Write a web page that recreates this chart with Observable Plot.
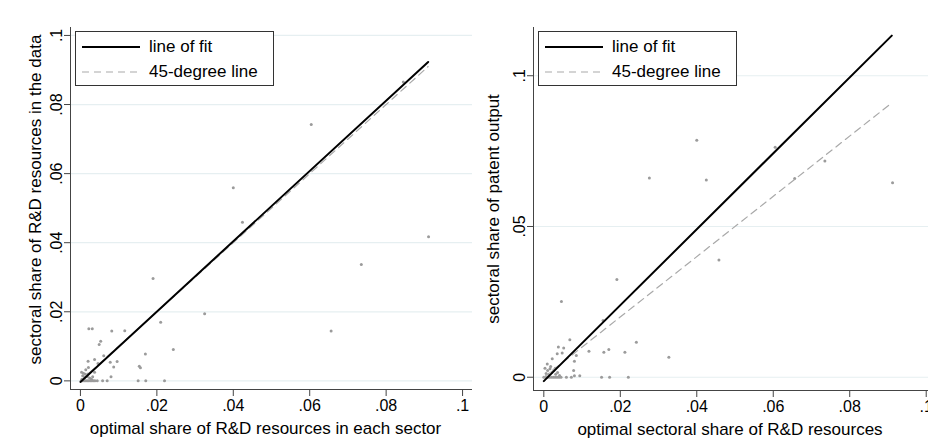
<!DOCTYPE html>
<html><head><meta charset="utf-8">
<script src="https://cdn.jsdelivr.net/npm/d3@7"></script>
<script src="https://cdn.jsdelivr.net/npm/@observablehq/plot@0.6"></script>
<style>
html,body{margin:0;padding:0;background:#fff;}
#wrap{position:relative;width:928px;height:446px;overflow:hidden;font-family:"Liberation Sans",Arial,sans-serif;color:#000;}
.panel{position:absolute;top:0;}
.legend{position:absolute;border:1px solid #333;background:#fff;box-sizing:border-box;font-size:17px;}
.row{position:absolute;left:0;height:20px;white-space:nowrap;}
.row svg{position:absolute;top:0;}
.row span{position:absolute;top:0;line-height:20px;}
</style>
</head><body>
<div id="wrap"></div>
<script>
// ---------- data ----------
// Left panel: optimal share of R&D resources (x) vs sectoral share of R&D resources in the data (y)
const leftX = [0.0604,0.0911,0.0735,0.0656,0.0400,0.0424,0.0845,0.0190,0.0325,0.0210,0.0243,0.0220,0.0170,0.0154,0.0157,0.0151,0.0171,
  0.0116,0.0082,0.0022,0.0031,0.0053,0.0049,0.0078,0.0096,0.0087,0.0061,0.0037,0.0020,0.0046,0.0021,0.0037,0.0080,0.0058,0.0070,0.0044,
  0.0014,0.0008,0.0003,0.0006,0.0011,0.0018,0.0024,0.0029,0.0004,0.0013,0.0020,0.0032,
  0.0002,0.0006,0.0010,0.0014,0.0018,0.0022,0.0026,0.0030,0.0034,0.0038];
const leftY = [0.0742,0.0417,0.0337,0.0144,0.0559,0.0459,0.0865,0.0296,0.0194,0.0170,0.0091,0.0000,0.0078,0.0042,0.0038,0.0000,0.0000,
  0.0145,0.0144,0.0151,0.0151,0.0115,0.0105,0.0054,0.0056,0.0040,0.0073,0.0062,0.0057,0.0050,0.0039,0.0025,0.0012,0.0000,0.0000,0.0000,
  0.0032,0.0022,0.0025,0.0015,0.0010,0.0012,0.0008,0.0005,0.0005,0.0019,0.0020,0.0012,
  0,0,0,0,0,0,0,0,0,0];
// Right panel: optimal sectoral share of R&D resources (x) vs sectoral share of patent output (y)
const rightX = [0.0400,0.0605,0.0735,0.0656,0.0276,0.0425,0.0912,0.0458,0.0191,0.0046,0.0155,0.0242,0.0327,0.0118,0.0157,0.0170,0.0212,
  0.0068,0.0038,0.0052,0.0048,0.0035,0.0022,0.0085,0.0080,0.0078,0.0094,0.0080,0.0072,0.0059,0.0151,0.0172,0.0221,0.0009,
  0.0003,0.0010,0.0016,0.0021,0.0026,0.0031,0.0006,0.0013,0.0036,0.0041,0.0018,0.0030,
  0.0000,0.0005,0.0010,0.0015,0.0020,0.0025,0.0030,0.0035,0.0040,0.0045];
const rightY = [0.0786,0.0763,0.0717,0.0659,0.0661,0.0654,0.0645,0.0389,0.0324,0.0251,0.0188,0.0116,0.0066,0.0086,0.0083,0.0092,0.0083,
  0.0124,0.0100,0.0097,0.0080,0.0078,0.0061,0.0072,0.0053,0.0022,0.0005,0.0005,0.0000,0.0000,0.0000,0.0000,0.0000,0.0044,
  0.0030,0.0022,0.0028,0.0016,0.0022,0.0010,0.0012,0.0008,0.0016,0.0006,0.0036,0.0030,
  0,0,0,0,0,0,0,0,0,0];
// Fitted lines and 45-degree line endpoints
const lineX = [0, 0.091];
const leftFitY = [-0.0003, 0.0923];
const rightFitY = [-0.0013, 0.1133];
// Ticks and labels
const xTicks = [0, 0.02, 0.04, 0.06, 0.08, 0.1];
const leftYTicks = [0, 0.02, 0.04, 0.06, 0.08, 0.1];
const rightYTicks = [0, 0.05, 0.1];
const leftXTitle = "optimal share of R&D resources in each sector";
const leftYTitle = "sectoral share of R&D resources in the data";
const rightXTitle = "optimal sectoral share of R&D resources";
const rightYTitle = "sectoral share of patent output";
const legendLabels = ["line of fit", "45-degree line"];

// ---------- drawing ----------
const FONT = '"Liberation Sans", Arial, sans-serif';
const fmt = d => d === 0 ? "0" : String(+d.toFixed(4)).replace(/^0/, "");
const AXIS = "#444";

function panel(o) {
  const pts = o.xs.map((x, i) => ({x, y: o.ys[i]}));
  const fit = lineX.map((x, i) => ({x, y: o.fitY[i]}));
  const diag = lineX.map(x => ({x, y: x}));
  return Plot.plot({
    width: o.width, height: 446,
    marginTop: 27, marginBottom: o.marginBottom, marginLeft: o.marginLeft, marginRight: o.marginRight,
    style: {background: "transparent", overflow: "visible", fontFamily: FONT, fontSize: "16px", color: "#000"},
    x: {domain: o.xDomain, axis: null},
    y: {domain: o.yDomain, axis: null},
    marks: [
      Plot.gridY(o.yTicks, {stroke: "#e6eff1", strokeOpacity: 1, strokeWidth: 1.2}),
      Plot.dot(pts, {x: "x", y: "y", r: 1.5, fill: "#9b9b9b", stroke: null}),
      Plot.line(diag, {x: "x", y: "y", stroke: "#a9a9a9", strokeWidth: 1.2, strokeDasharray: "7,5"}),
      Plot.line(fit, {x: "x", y: "y", stroke: "#000", strokeWidth: 2}),
      Plot.ruleX([o.xDomain[0]], {stroke: AXIS, strokeWidth: 1}),
      Plot.ruleY([o.yDomain[0]], {stroke: AXIS, strokeWidth: 1}),
      Plot.axisX(xTicks, {tickFormat: fmt, tickSize: 7, tickPadding: 3, stroke: AXIS, fill: "#000", fontSize: 16, label: null}),
      Plot.axisY(o.yTicks, {tickFormat: fmt, tickSize: 6, tickRotate: -90, tickPadding: 3, stroke: AXIS, fill: "#000", fontSize: 16, label: null}),
      Plot.text([o.xTitle], {text: d => d, frameAnchor: "bottom", dx: o.xTitleDx, dy: 39, lineAnchor: "middle", fontSize: 17, fill: "#000"}),
      Plot.text([o.yTitle], {text: d => d, frameAnchor: "left", rotate: -90, dx: o.yTitleDx, dy: o.yTitleDy, lineAnchor: "middle", textAnchor: "middle", fontSize: 17, fill: "#000"})
    ]
  });
}

function legend(left, top, lineStart, textStart) {
  const div = document.createElement("div");
  div.className = "legend";
  Object.assign(div.style, {left: left + "px", top: top + "px", width: "199px", height: "55px"});
  legendLabels.forEach((lab, i) => {
    const row = document.createElement("div");
    row.className = "row";
    row.style.top = (5 + i * 25) + "px";
    row.style.width = "100%";
    const dash = i === 1;
    row.innerHTML = `<svg width="60" height="20" style="left:${lineStart}px"><line x1="0" x2="58" y1="10" y2="10" stroke="${dash ? "#a9a9a9" : "#000"}" stroke-width="${dash ? 1.2 : 2}" ${dash ? 'stroke-dasharray="7,5"' : ""}/></svg><span style="left:${textStart}px">${lab}</span>`;
    div.appendChild(row);
  });
  return div;
}

const wrap = document.getElementById("wrap");

const left = panel({
  xs: leftX, ys: leftY, fitY: leftFitY, yTicks: leftYTicks,
  width: 474, marginLeft: 70, marginRight: 2, marginBottom: 57,
  xDomain: [-0.0026, 0.1026], yDomain: [-0.0025, 0.1023],
  xTitle: leftXTitle, yTitle: leftYTitle, xTitleDx: -6, yTitleDx: -35, yTitleDy: -9
});
left.classList.add("panel");
left.style.left = "0px";
wrap.appendChild(left);

const right = panel({
  xs: rightX, ys: rightY, fitY: rightFitY, yTicks: rightYTicks,
  width: 464, marginLeft: 69, marginRight: 0, marginBottom: 56,
  xDomain: [-0.0027, 0.1006], yDomain: [-0.0044, 0.1160],
  xTitle: rightXTitle, yTitle: rightYTitle, xTitleDx: -1, yTitleDx: -40, yTitleDy: 0
});
right.classList.add("panel");
right.style.left = "464px";
wrap.appendChild(right);

wrap.appendChild(legend(75, 31, 6, 73));
wrap.appendChild(legend(538, 31, 6, 73));
</script>
</body></html>
